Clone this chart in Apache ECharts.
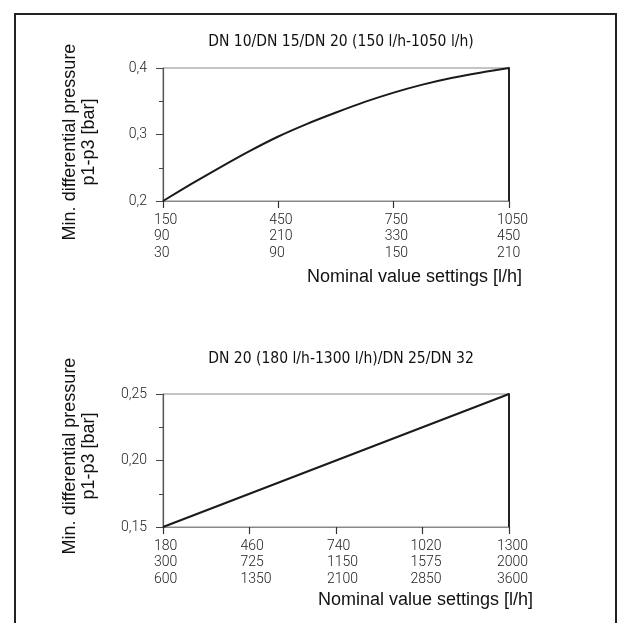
<!DOCTYPE html>
<html>
<head>
<meta charset="utf-8">
<script src="https://cdn.jsdelivr.net/npm/echarts@6/dist/echarts.min.js"></script>
<style>
html,body{margin:0;padding:0;background:#fff;}
#c{width:630px;height:623px;}
</style>
</head>
<body>
<div id="c"></div>
<script>
// ---- Data: chart 1 ----
const title1 = 'DN 10/DN 15/DN 20 (150 l/h-1050 l/h)';
const xTicks1 = [150, 450, 750, 1050];
const xRow2a = [90, 210, 330, 450];
const xRow3a = [30, 90, 150, 210];
const curveX = [150, 225, 300, 375, 450, 525, 600, 675, 750, 825, 900, 975, 1050];
const curveY = [0.200, 0.226, 0.251, 0.275, 0.297, 0.316, 0.333, 0.349, 0.363, 0.375, 0.385, 0.393, 0.400];

// ---- Data: chart 2 ----
const title2 = 'DN 20 (180 l/h-1300 l/h)/DN 25/DN 32';
const xTicks2 = [180, 460, 740, 1020, 1300];
const xRow2b = [300, 725, 1150, 1575, 2000];
const xRow3b = [600, 1350, 2100, 2850, 3600];
const lineX = [180, 460, 740, 1020, 1300];
const lineY = [0.150, 0.175, 0.200, 0.225, 0.250];

const yName = 'Min. differential pressure\np1-p3 [bar]';
const xName = 'Nominal value settings [l/h]';

const tickFont = {fontFamily: 'Roboto', fontWeight: 300, fontSize: 14, color: '#222'};

function xFormatter(ticks, r2, r3) {
  return function (v) {
    const i = ticks.indexOf(v);
    if (i < 0) return '';
    const s = String(ticks[i]).length > 3 ? 'w4' : 'w3';
    return '{' + s + '|' + ticks[i] + '}\n{' + s + '|' + r2[i] + '}\n{' + s + '|' + r3[i] + '}';
  };
}

function mkX(gridIndex, min, max, ticks, r2, r3) {
  return {
    type: 'value', gridIndex, min, max,
    axisLine: {show: true, lineStyle: {color: '#888', width: 1}},
    axisTick: {show: true, customValues: ticks, length: 7, lineStyle: {color: '#333', width: 1.2}},
    axisLabel: Object.assign({
      customValues: ticks, margin: 11, lineHeight: 16.5, align: 'center',
      formatter: xFormatter(ticks, r2, r3),
      rich: {
        w3: Object.assign({width: 18, align: 'left', lineHeight: 16.5}, tickFont),
        w4: Object.assign({width: 24, align: 'left', lineHeight: 16.5}, tickFont)
      }
    }, tickFont),
    splitLine: {show: false}
  };
}

function mkY(gridIndex, min, max, interval, digits) {
  return {
    type: 'value', gridIndex, min, max, interval,
    axisLine: {show: true, lineStyle: {color: '#555', width: 1.2}},
    axisTick: {show: true, length: 7, lineStyle: {color: '#444', width: 1}},
    minorTick: {show: true, splitNumber: 2, length: 4, lineStyle: {color: '#444', width: 1}},
    axisLabel: Object.assign({margin: 16, formatter: v => v.toFixed(digits).replace('.', ',')}, tickFont),
    splitLine: {show: false}
  };
}

function mkYRight(gridIndex, min, max) {
  return {
    type: 'value', gridIndex, min, max, position: 'right',
    axisLine: {show: true, lineStyle: {color: '#222', width: 2}},
    axisTick: {show: false}, axisLabel: {show: false}, splitLine: {show: false}
  };
}

const chart = echarts.init(document.getElementById('c'), null, {renderer: 'canvas'});

const nameStyle = {fontFamily: 'Liberation Sans', fontSize: 18, fill: '#111'};
const titleStyle = {fontFamily: 'DejaVu Sans Condensed, Liberation Sans', fontSize: 15.5, fill: '#111'};

chart.setOption({
  animation: false,
  backgroundColor: '#fff',
  grid: [
    {left: 163, top: 68, width: 346, height: 133, show: true, borderColor: '#888', borderWidth: 1},
    {left: 163, top: 394, width: 346, height: 133, show: true, borderColor: '#888', borderWidth: 1}
  ],
  xAxis: [
    mkX(0, 150, 1050, xTicks1, xRow2a, xRow3a),
    mkX(1, 180, 1300, xTicks2, xRow2b, xRow3b)
  ],
  yAxis: [
    mkY(0, 0.2, 0.4, 0.1, 1),
    mkY(1, 0.15, 0.25, 0.05, 2),
    mkYRight(0, 0.2, 0.4),
    mkYRight(1, 0.15, 0.25)
  ],
  series: [
    {type: 'line', xAxisIndex: 0, yAxisIndex: 0, smooth: 0.3, showSymbol: false,
     lineStyle: {color: '#1a1a1a', width: 2},
     data: curveX.map((x, i) => [x, curveY[i]])},
    {type: 'line', xAxisIndex: 1, yAxisIndex: 1, showSymbol: false,
     lineStyle: {color: '#1a1a1a', width: 2},
     data: lineX.map((x, i) => [x, lineY[i]])}
  ],
  graphic: [
    {type: 'rect', shape: {x: 15, y: 14, width: 601, height: 640}, style: {fill: 'none', stroke: '#222', lineWidth: 2}, silent: true},
    {type: 'text', x: 341, y: 42, style: Object.assign({text: title1, align: 'center', verticalAlign: 'middle'}, titleStyle)},
    {type: 'text', x: 341, y: 359, style: Object.assign({text: title2, align: 'center', verticalAlign: 'middle'}, titleStyle)},
    {type: 'text', x: 522, y: 277, style: Object.assign({text: xName, align: 'right', verticalAlign: 'middle'}, nameStyle)},
    {type: 'text', x: 533, y: 600, style: Object.assign({text: xName, align: 'right', verticalAlign: 'middle'}, nameStyle)},
    {type: 'text', x: 80, y: 142, rotation: Math.PI / 2, style: Object.assign({text: yName, align: 'center', verticalAlign: 'middle', lineHeight: 19}, nameStyle)},
    {type: 'text', x: 80, y: 456, rotation: Math.PI / 2, style: Object.assign({text: yName, align: 'center', verticalAlign: 'middle', lineHeight: 19}, nameStyle)}
  ]
});
</script>
</body>
</html>
